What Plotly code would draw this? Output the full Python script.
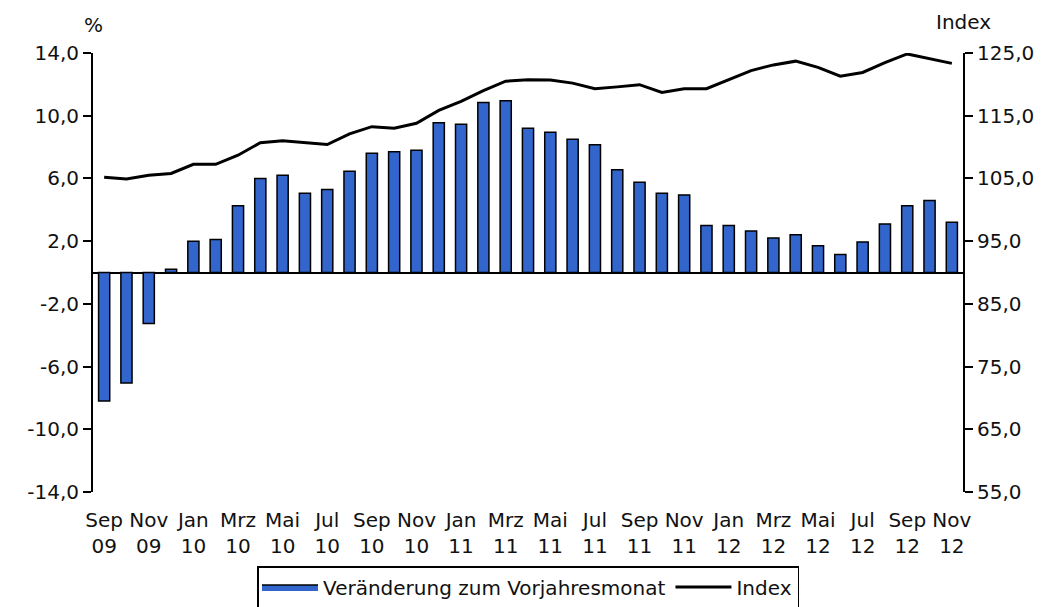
import plotly.graph_objects as go

months = ["Sep 09", "Okt 09", "Nov 09", "Dez 09",
          "Jan 10", "Feb 10", "Mrz 10", "Apr 10", "Mai 10", "Jun 10", "Jul 10", "Aug 10",
          "Sep 10", "Okt 10", "Nov 10", "Dez 10",
          "Jan 11", "Feb 11", "Mrz 11", "Apr 11", "Mai 11", "Jun 11", "Jul 11", "Aug 11",
          "Sep 11", "Okt 11", "Nov 11", "Dez 11",
          "Jan 12", "Feb 12", "Mrz 12", "Apr 12", "Mai 12", "Jun 12", "Jul 12", "Aug 12",
          "Sep 12", "Okt 12", "Nov 12"]

change_pct = [-8.2, -7.05, -3.25, 0.2,
              2.0, 2.1, 4.25, 6.0, 6.2, 5.05, 5.3, 6.45,
              7.6, 7.7, 7.8, 9.55,
              9.45, 10.85, 10.95, 9.2, 8.95, 8.5, 8.15, 6.55,
              5.75, 5.05, 4.95, 3.0,
              3.0, 2.65, 2.2, 2.4, 1.7, 1.15, 1.95, 3.1,
              4.25, 4.6, 3.2]

index_vals = [105.2, 104.9, 105.5, 105.8,
              107.25, 107.25, 108.7, 110.7, 111.0, 110.75, 110.4, 112.1,
              113.25, 113.0, 113.8, 115.85,
              117.3, 119.0, 120.5, 120.75, 120.7, 120.2, 119.3, 119.6,
              119.95, 118.7, 119.3, 119.3,
              120.8, 122.2, 123.1, 123.7, 122.7, 121.3, 121.9, 123.45,
              124.85, 124.15, 123.35]

tick_months = months[::2]
tick_labels = [m.replace(" ", "<br>") for m in tick_months]

left_ticks = [-14, -10, -6, -2, 2, 6, 10, 14]
left_labels = ["-14,0", "-10,0", "-6,0", "-2,0", "2,0", "6,0", "10,0", "14,0"]
right_ticks = [55, 65, 75, 85, 95, 105, 115, 125]
right_labels = ["55,0", "65,0", "75,0", "85,0", "95,0", "105,0", "115,0", "125,0"]

font_family = "DejaVu Sans"
fs = 20
BAR_COLOR = "#3366CC"

# the page body has an 8px margin, so the figure starts at (8, 8) in the window
OFF = 8

fig = go.Figure()
fig.add_trace(go.Bar(
    x=months, y=change_pct, name="Veränderung zum Vorjahresmonat",
    marker=dict(color=BAR_COLOR, line=dict(color="black", width=1.5)),
    width=0.5, showlegend=False, legendgroup="bars",
))
# legend-only entry giving a wide filled swatch for the bars
fig.add_trace(go.Scatter(
    x=[None], y=[None], name="Veränderung zum Vorjahresmonat",
    mode="lines", fill="toself", fillcolor=BAR_COLOR,
    line=dict(color="black", width=1.5), legendgroup="bars",
))
fig.add_trace(go.Scatter(
    x=months, y=index_vals, name="Index", yaxis="y2", mode="lines",
    line=dict(color="black", width=3),
))

fig.update_layout(
    width=1054, height=607,
    margin=dict(l=93 - OFF, r=1054 - (963 - OFF), t=53 - OFF, b=607 - (492 - OFF),
                autoexpand=False),
    paper_bgcolor="white", plot_bgcolor="white",
    separators=",.",
    font=dict(family=font_family, size=fs, color="#111111"),
    showlegend=True,
    legend=dict(orientation="h", x=0.5, xanchor="center",
                yref="container", y=1 - (566 - OFF) / 607, yanchor="top",
                bordercolor="black", borderwidth=1.5, font=dict(size=fs),
                itemwidth=56, tracegroupgap=0),
    xaxis=dict(type="category", categoryorder="array", categoryarray=months,
               tickmode="array", tickvals=tick_months, ticktext=tick_labels,
               showline=False, showgrid=False, ticks="", zeroline=False,
               automargin=False, ticklabelstandoff=14,
               tickfont=dict(size=fs), range=[-0.5, len(months) - 0.5]),
    yaxis=dict(range=[-14, 14], tickmode="array", tickvals=left_ticks,
               ticktext=left_labels, showgrid=False, zeroline=True,
               zerolinecolor="black", zerolinewidth=1.5, automargin=False,
               showline=True, linecolor="black", linewidth=2,
               ticks="outside", ticklen=8, tickwidth=2, tickcolor="black"),
    yaxis2=dict(range=[55, 125], tickmode="array", tickvals=right_ticks,
                ticktext=right_labels, overlaying="y", side="right",
                showgrid=False, zeroline=False, automargin=False,
                showline=True, linecolor="black", linewidth=2,
                ticks="outside", ticklen=8, tickwidth=2, tickcolor="black"),
    bargap=0.5,
    annotations=[
        dict(text="%", x=0, xref="paper", y=1, yref="paper", xanchor="center",
             yanchor="middle", yshift=28, showarrow=False, font=dict(size=fs)),
        dict(text="Index", x=1, xref="paper", y=1, yref="paper", xanchor="center",
             yanchor="middle", yshift=31, showarrow=False, font=dict(size=fs)),
    ],
)

fig.write_html("out.html")
